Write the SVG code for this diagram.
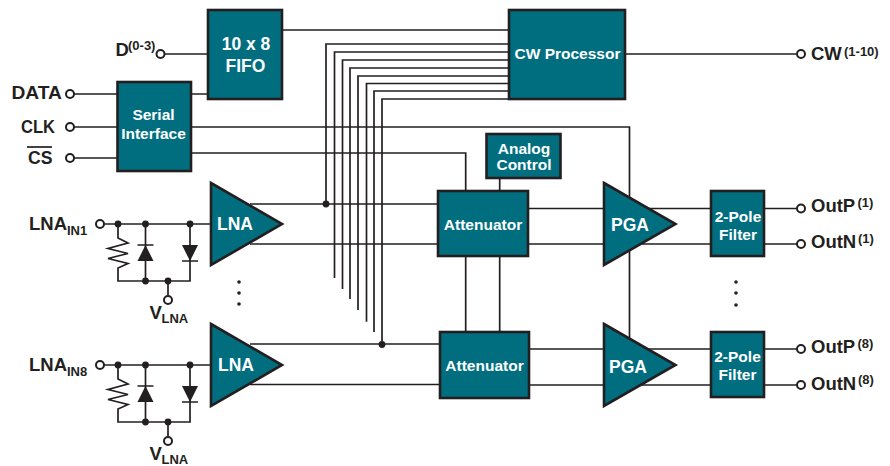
<svg xmlns="http://www.w3.org/2000/svg" xmlns:xlink="http://www.w3.org/1999/xlink" width="890" height="466" viewBox="0 0 890 466">
<style>
text{font-family:"Liberation Sans",Arial,sans-serif;font-weight:700;fill:#231f20}
.l{font-size:18.500px}
.s{font-size:13px}
.t{fill:#fff;font-size:15.500px;text-anchor:middle}
.m{font-size:17.500px}
.b{fill:#006e7f;stroke:#231f20;stroke-width:2.6}
.w{fill:none;stroke:#231f20;stroke-width:1.7}
.o{fill:#fff;stroke:#231f20;stroke-width:2}
.d{fill:#231f20;stroke:none}
</style>
<defs>
<g id="input">
<path class="w" d="M100 224H211M118 224V238L128 243L108 248.500L128 253.500L108 258.500L128 263.500L118 268V281H190V224M145.500 224V281"/>
<path class="d" d="M137.500 261H153.500L145.500 245ZM182 245H198L190 261Z"/>
<path class="w" d="M137.500 245H153.500M182 261H198M168 281V295"/>
<circle class="d" cx="118" cy="224" r="3.400"/><circle class="d" cx="145.500" cy="224" r="3.400"/><circle class="d" cx="190" cy="224" r="3.400"/>
<circle class="d" cx="145.500" cy="281" r="3.400"/><circle class="d" cx="168" cy="281" r="3.400"/>
<circle class="o" cx="100" cy="224" r="4"/><circle class="o" cx="168" cy="300" r="4"/>
</g>
</defs>
<g id="connectors">
<path class="w" d="M164 54H208M282 30H509M625 54H796M74 94H117M191 94H208M74 127H117M74 158H117"/>
<path class="w" d="M191 127H629.500V338M191 153H465.700V191M499.700 178V191M465.700 256V332M499.700 256V332"/>
<path class="w" d="M326 204V44H509M334.500 278V52H509M342.500 289V60H509M350 299V68H509M358 310V76H509M366.500 321.700V83.500H509M374 332V91H509M382 344V99H509"/>
<path class="w" d="M250 204H438M250 244H438M250 344H440M250 384.500H440"/>
<path class="w" d="M528 208.500H711M528 244H711M529 349H711M529 385H711"/>
<path class="w" d="M764 208.500H797M764 244H797M764 349H797M764 385H797"/>
<circle class="d" cx="326" cy="204" r="3.400"/><circle class="d" cx="382" cy="344.500" r="3.400"/>
<circle class="o" cx="160.500" cy="54" r="4"/><circle class="o" cx="70" cy="94" r="4"/><circle class="o" cx="70" cy="127" r="4"/><circle class="o" cx="70" cy="158" r="4"/>
<circle class="o" cx="801" cy="54" r="4"/><circle class="o" cx="801" cy="208.500" r="4"/><circle class="o" cx="801" cy="244" r="4"/><circle class="o" cx="801" cy="349" r="4"/><circle class="o" cx="801" cy="385" r="4"/>
<use xlink:href="#input" href="#input"/>
<use xlink:href="#input" href="#input" y="141"/>
<circle class="d" cx="239" cy="282" r="1.800"/><circle class="d" cx="239" cy="293" r="1.800"/><circle class="d" cx="239" cy="304" r="1.800"/>
<circle class="d" cx="736" cy="282" r="1.800"/><circle class="d" cx="736" cy="293" r="1.800"/><circle class="d" cx="736" cy="305" r="1.800"/>
</g>
<g id="fifo"><rect class="b" x="208" y="10" width="74" height="89"/><text class="t" style="font-size:17.500px" x="246" y="50">10 x 8</text><text class="t" style="font-size:17.500px" x="245.500" y="72">FIFO</text></g>
<g id="serial"><rect class="b" x="117.500" y="82" width="73.500" height="89"/><text class="t" x="153.500" y="120">Serial</text><text class="t" x="153.500" y="138.500">Interface</text></g>
<g id="cw"><rect class="b" x="509" y="10" width="116" height="89"/><text class="t" x="567.500" y="59">CW Processor</text></g>
<g id="analog"><rect class="b" x="486.500" y="134" width="74" height="44"/><text class="t" x="524" y="154">Analog</text><text class="t" x="524" y="169.500">Control</text></g>
<g id="att1"><rect class="b" x="438" y="191" width="90" height="65"/><text class="t" x="483" y="230">Attenuator</text></g>
<g id="att2"><rect class="b" x="440" y="332" width="89" height="66"/><text class="t" x="484.500" y="371">Attenuator</text></g>
<g id="lna1"><path class="b" d="M211 183L282 224L211 265Z"/><text class="t m" x="235" y="229.500">LNA</text></g>
<g id="lna2"><path class="b" d="M211 324L282 365L211 406Z"/><text class="t m" x="236" y="370.500">LNA</text></g>
<g id="pga1"><path class="b" d="M604 183L675.500 224L604 265Z"/><text class="t m" x="630" y="230.500">PGA</text></g>
<g id="pga2"><path class="b" d="M604 324L675.500 365L604 406Z"/><text class="t m" x="628" y="372.500">PGA</text></g>
<g id="filter1"><rect class="b" x="711" y="191" width="53" height="65"/><text class="t" x="738" y="221.500">2-Pole</text><text class="t" x="738" y="239.500">Filter</text></g>
<g id="filter2"><rect class="b" x="711" y="332" width="53" height="65"/><text class="t" x="737.500" y="361.500">2-Pole</text><text class="t" x="737.500" y="379.500">Filter</text></g>
<g id="labels">
<text class="l" x="115.500" y="56">D</text><text class="s" x="128" y="50">(0-3)</text>
<text class="l" x="11.500" y="99" textLength="50.500" lengthAdjust="spacingAndGlyphs">DATA</text>
<text class="l" x="21" y="132.500" textLength="34" lengthAdjust="spacingAndGlyphs">CLK</text>
<text class="l" x="28" y="164" textLength="24.500" lengthAdjust="spacingAndGlyphs">CS</text><path class="w" d="M27 147H52"/>
<text class="l" x="29" y="230">LNA</text><text class="s" x="67" y="235">IN1</text>
<text class="l" x="29" y="371">LNA</text><text class="s" x="67" y="376">IN8</text>
<text class="l" x="149.500" y="319">V</text><text class="s" x="161.500" y="323">LNA</text>
<text class="l" x="149.500" y="460">V</text><text class="s" x="161.500" y="464">LNA</text>
<text class="l" x="811" y="60">CW</text><text class="s" x="844" y="56">(1-10)</text>
<text class="l" x="811" y="212">OutP</text><text class="s" x="857.500" y="207">(1)</text>
<text class="l" x="811" y="248">OutN</text><text class="s" x="858" y="243">(1)</text>
<text class="l" x="811" y="353">OutP</text><text class="s" x="857.500" y="348">(8)</text>
<text class="l" x="811" y="390">OutN</text><text class="s" x="858" y="384">(8)</text>
</g>
</svg>
